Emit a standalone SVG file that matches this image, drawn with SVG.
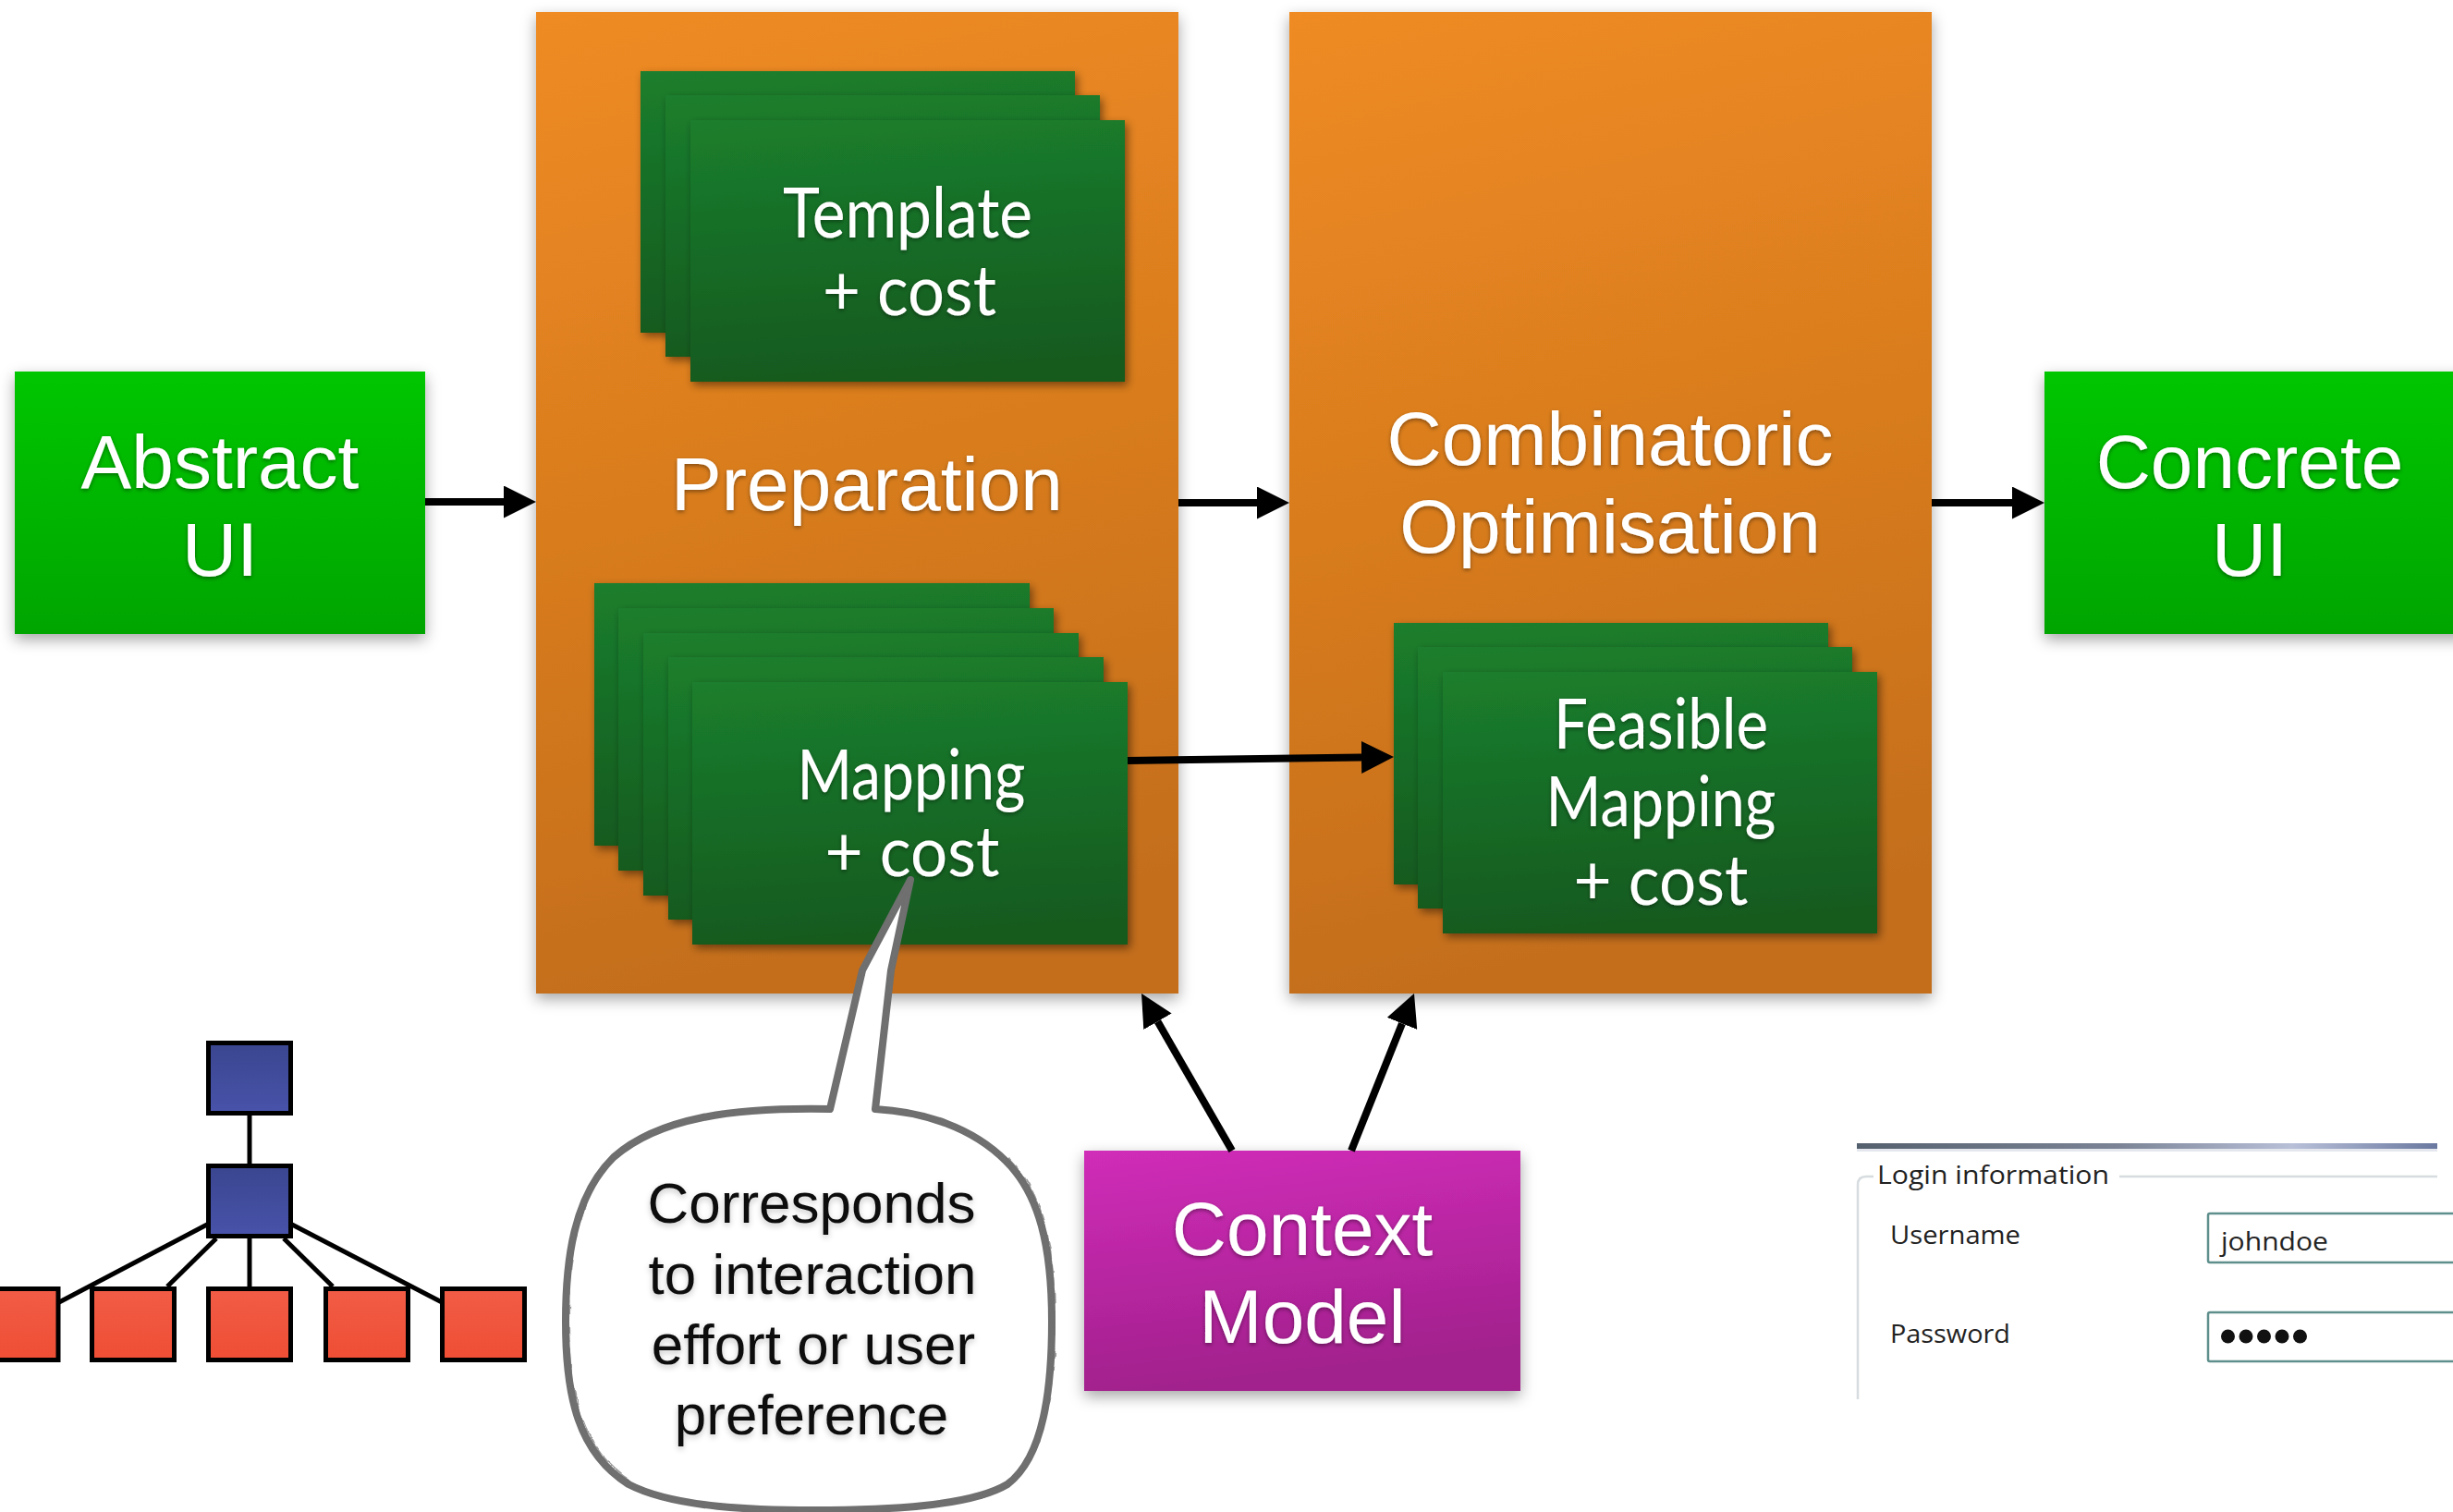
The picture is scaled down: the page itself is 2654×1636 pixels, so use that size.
<svg xmlns="http://www.w3.org/2000/svg" width="2654" height="1636" viewBox="0 0 2654 1636">
<defs>
  <linearGradient id="gOrange" x1="0" y1="0" x2="0.15" y2="1">
    <stop offset="0" stop-color="#ef8b22"/>
    <stop offset="1" stop-color="#c46e1b"/>
  </linearGradient>
  <linearGradient id="gCard" x1="0" y1="0" x2="0.1" y2="1">
    <stop offset="0" stop-color="#1b7e2d"/>
    <stop offset="1" stop-color="#125a1f"/>
  </linearGradient>
  <linearGradient id="gGreen" x1="0" y1="0" x2="0" y2="1">
    <stop offset="0" stop-color="#00c600"/>
    <stop offset="1" stop-color="#00a500"/>
  </linearGradient>
  <linearGradient id="gMag" x1="0" y1="0" x2="0.2" y2="1">
    <stop offset="0" stop-color="#d02db8"/>
    <stop offset="1" stop-color="#a1208c"/>
  </linearGradient>
  <linearGradient id="gBlue" x1="0" y1="0" x2="0" y2="1">
    <stop offset="0" stop-color="#3a468f"/>
    <stop offset="1" stop-color="#4853aa"/>
  </linearGradient>
  <linearGradient id="gRed" x1="0" y1="0" x2="0" y2="1">
    <stop offset="0" stop-color="#f25c46"/>
    <stop offset="1" stop-color="#ee4e34"/>
  </linearGradient>
  <linearGradient id="gBar" x1="0" y1="0" x2="1" y2="0">
    <stop offset="0" stop-color="#55606f"/>
    <stop offset="0.45" stop-color="#7a8496"/>
    <stop offset="0.75" stop-color="#b8c0d8"/>
    <stop offset="1" stop-color="#6a78a0"/>
  </linearGradient>
  <filter id="bshadow" x="-10%" y="-10%" width="120%" height="125%">
    <feDropShadow dx="0" dy="6" stdDeviation="8" flood-color="#000" flood-opacity="0.35"/>
  </filter>
  <filter id="cshadow" x="-10%" y="-10%" width="125%" height="130%">
    <feDropShadow dx="3" dy="4" stdDeviation="5" flood-color="#000" flood-opacity="0.45"/>
  </filter>
  <filter id="tshadow" x="-10%" y="-20%" width="120%" height="150%">
    <feDropShadow dx="0" dy="2" stdDeviation="2" flood-color="#000" flood-opacity="0.4"/>
  </filter>
  <filter id="bt" x="-10%" y="-20%" width="120%" height="160%">
    <feDropShadow dx="0" dy="3" stdDeviation="3" flood-color="#000" flood-opacity="0.22"/>
  </filter>
  <filter id="rough" x="-5%" y="-5%" width="110%" height="110%">
    <feTurbulence type="fractalNoise" baseFrequency="0.08" numOctaves="2" seed="3"/>
    <feDisplacementMap in="SourceGraphic" scale="7" xChannelSelector="R" yChannelSelector="G"/>
  </filter>
  <marker id="arrow" viewBox="0 0 35 35" refX="0" refY="17.5" markerWidth="35" markerHeight="35" markerUnits="userSpaceOnUse" orient="auto">
    <path d="M0,0 L35,17.5 L0,35 z" fill="#000"/>
  </marker>
</defs>
<style>
  .big { font-family: "Liberation Sans", Arial, sans-serif; font-size: 82px; fill: #fff; text-anchor: middle; filter: url(#tshadow); }
  .cardt { font-family: Lato, "Open Sans", sans-serif; font-size: 76px; fill: #fff; text-anchor: middle; filter: url(#tshadow); }
  .card { fill: url(#gCard); filter: url(#cshadow); }
  .stage { fill: url(#gOrange); filter: url(#bshadow); }
  .io { fill: url(#gGreen); filter: url(#bshadow); }
  .conn { stroke: #000; stroke-width: 8; fill: none; marker-end: url(#arrow); }
  .bubt { font-family: "Liberation Sans", Arial, sans-serif; font-size: 62px; fill: #111; text-anchor: middle; filter: url(#bt); }
  .tline { stroke: #000; stroke-width: 5; fill: none; }
  .bluebox { fill: url(#gBlue); stroke: #000; stroke-width: 5; }
  .redbox { fill: url(#gRed); stroke: #000; stroke-width: 5; }
  .uit { font-family: "Open Sans", "Noto Sans", sans-serif; font-size: 28px; fill: #222; }
  .field { fill: #fff; stroke: #5f8f8c; stroke-width: 2.5; }
  .bub { fill: none; stroke: #6f6f6f; stroke-linejoin: round; }
</style>

<rect width="2654" height="1636" fill="#fff"/>

<g id="abstract-ui">
  <rect class="io" x="16" y="402" width="444" height="284"/>
  <text class="big" x="238" y="528">Abstract</text>
  <text class="big" x="238" y="623">UI</text>
</g>

<g id="preparation">
  <rect class="stage" x="580" y="13" width="695" height="1062"/>
  <text class="big" x="938" y="552">Preparation</text>
</g>

<g id="template-cost">
  <rect class="card" x="693" y="77" width="470" height="283"/>
  <rect class="card" x="720" y="103" width="470" height="283"/>
  <rect class="card" x="747" y="130" width="470" height="283"/>
  <text class="cardt" x="982" y="257" textLength="270" lengthAdjust="spacingAndGlyphs">Template</text>
  <text class="cardt" x="984" y="341" textLength="188" lengthAdjust="spacingAndGlyphs">+ cost</text>
</g>

<g id="mapping-cost">
  <rect class="card" x="643" y="631" width="471" height="284"/>
  <rect class="card" x="669" y="658" width="471" height="284"/>
  <rect class="card" x="696" y="685" width="471" height="284"/>
  <rect class="card" x="723" y="711" width="471" height="284"/>
  <rect class="card" x="749" y="738" width="471" height="284"/>
  <text class="cardt" x="986" y="865" textLength="247" lengthAdjust="spacingAndGlyphs">Mapping</text>
  <text class="cardt" x="987" y="948" textLength="189" lengthAdjust="spacingAndGlyphs">+ cost</text>
</g>

<g id="combinatoric-optimisation">
  <rect class="stage" x="1395" y="13" width="695" height="1062"/>
  <text class="big" x="1742" y="503">Combinatoric</text>
  <text class="big" x="1742" y="598">Optimisation</text>
</g>

<g id="feasible-mapping">
  <rect class="card" x="1508" y="674" width="470" height="283"/>
  <rect class="card" x="1534" y="700" width="470" height="283"/>
  <rect class="card" x="1561" y="727" width="470" height="283"/>
  <text class="cardt" x="1797" y="810" textLength="232" lengthAdjust="spacingAndGlyphs">Feasible</text>
  <text class="cardt" x="1797" y="894" textLength="249" lengthAdjust="spacingAndGlyphs">Mapping</text>
  <text class="cardt" x="1797" y="979" textLength="189" lengthAdjust="spacingAndGlyphs">+ cost</text>
</g>

<g id="concrete-ui">
  <rect class="io" x="2212" y="402" width="470" height="284"/>
  <text class="big" x="2434" y="528">Concrete</text>
  <text class="big" x="2434" y="623">UI</text>
</g>

<g id="context-model">
  <rect x="1173" y="1245" width="472" height="260" fill="url(#gMag)" filter="url(#bshadow)"/>
  <text class="big" x="1409" y="1358">Context</text>
  <text class="big" x="1409" y="1453">Model</text>
</g>

<g id="speech-bubble">
  <path d="M898,1200 C790,1198 712,1210 664,1252 C620,1295 612,1365 612,1430 C612,1512 626,1572 680,1606 C730,1632 820,1634 880,1634 C960,1634 1050,1630 1090,1606 C1130,1576 1138,1500 1138,1430 C1138,1350 1125,1292 1088,1256 C1052,1220 1000,1203 947,1200 L964,1050 L985,952 L933,1050 Z" fill="#fff" stroke="#6f6f6f" stroke-width="8" stroke-linejoin="round"/>
  <path class="bub" stroke-width="3" filter="url(#rough)" d="M898,1200 C790,1198 712,1210 664,1252 C620,1295 612,1365 612,1430 C612,1512 626,1572 680,1606 C730,1632 820,1634 880,1634 C960,1634 1050,1630 1090,1606 C1130,1576 1138,1500 1138,1430 C1138,1350 1125,1292 1088,1256 C1052,1220 1000,1203 947,1200 L964,1050 L985,952 L933,1050 Z"/>
  <path class="bub" stroke-width="2" opacity="0.7" transform="translate(3,-3)" filter="url(#rough)" d="M664,1252 C620,1295 612,1365 612,1430 C612,1512 626,1572 680,1606 M1090,1606 C1130,1576 1138,1500 1138,1430 C1138,1350 1125,1292 1088,1256"/>
  <text class="bubt" x="878" y="1323">Corresponds</text>
  <text class="bubt" x="879" y="1400">to interaction</text>
  <text class="bubt" x="880" y="1476">effort or user</text>
  <text class="bubt" x="878" y="1552">preference</text>
</g>

<g id="tree">
  <line class="tline" x1="270" y1="1207" x2="270" y2="1259"/>
  <line class="tline" x1="224" y1="1325" x2="64" y2="1409"/>
  <line class="tline" x1="234" y1="1340" x2="181" y2="1392"/>
  <line class="tline" x1="270" y1="1340" x2="270" y2="1392"/>
  <line class="tline" x1="307" y1="1340" x2="360" y2="1392"/>
  <line class="tline" x1="316" y1="1325" x2="478" y2="1409"/>
  <rect class="bluebox" x="225.5" y="1128.5" width="89" height="76"/>
  <rect class="bluebox" x="225.5" y="1261.5" width="89" height="76"/>
  <rect class="redbox" x="-26" y="1394.5" width="89" height="77"/>
  <rect class="redbox" x="99.5" y="1394.5" width="89" height="77"/>
  <rect class="redbox" x="225.5" y="1394.5" width="89" height="77"/>
  <rect class="redbox" x="352.5" y="1394.5" width="89" height="77"/>
  <rect class="redbox" x="478.5" y="1394.5" width="89" height="77"/>
</g>

<g id="login-ui">
  <rect x="2009" y="1237" width="628" height="6" fill="url(#gBar)"/>
  <rect x="2009" y="1243" width="628" height="3" fill="#e4e8ee"/>
  <path d="M2010,1514 L2010,1282 Q2010,1273 2019,1273 L2027,1273" fill="none" stroke="#d6dcdf" stroke-width="2.5"/>
  <line x1="2293" y1="1273" x2="2637" y2="1273" stroke="#d6dcdf" stroke-width="2.5"/>
  <text class="uit" x="2031" y="1281" textLength="251" lengthAdjust="spacingAndGlyphs">Login information</text>
  <text class="uit" x="2045" y="1346" textLength="141" lengthAdjust="spacingAndGlyphs">Username</text>
  <text class="uit" x="2045" y="1453" textLength="130" lengthAdjust="spacingAndGlyphs">Password</text>
  <rect class="field" x="2389" y="1313" width="280" height="53" rx="2"/>
  <text class="uit" x="2403" y="1353" textLength="116" lengthAdjust="spacingAndGlyphs">johndoe</text>
  <rect class="field" x="2389" y="1420" width="280" height="53" rx="2"/>
  <g fill="#111">
    <circle cx="2410.5" cy="1446" r="7.5"/>
    <circle cx="2430" cy="1446" r="7.5"/>
    <circle cx="2449.5" cy="1446" r="7.5"/>
    <circle cx="2469" cy="1446" r="7.5"/>
    <circle cx="2488.5" cy="1446" r="7.5"/>
  </g>
</g>

<g id="connectors">
  <line class="conn" x1="460" y1="543" x2="545" y2="543"/>
  <line class="conn" x1="1275" y1="544" x2="1360" y2="544"/>
  <line class="conn" x1="2090" y1="544" x2="2177" y2="544"/>
  <line class="conn" x1="1220" y1="823" x2="1473" y2="819.5"/>
  <line class="conn" x1="1333" y1="1245" x2="1252.5" y2="1105.3"/>
  <line class="conn" x1="1462" y1="1245" x2="1517" y2="1107.5"/>
</g>
</svg>
